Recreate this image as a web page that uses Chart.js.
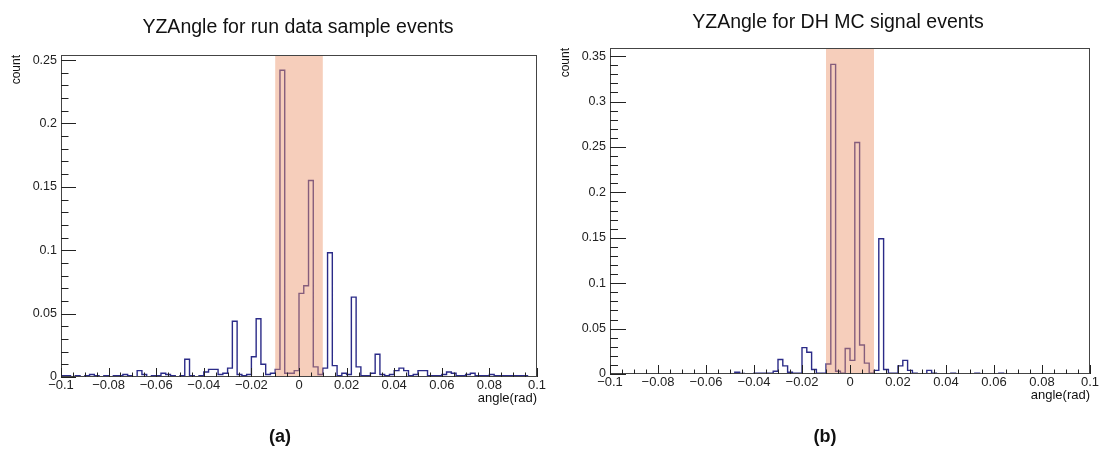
<!DOCTYPE html>
<html>
<head>
<meta charset="utf-8">
<script src="https://cdn.jsdelivr.net/npm/chart.js@4"></script>
<style>
  body { margin: 0; background: #fff; }
  #wrap { position: relative; width: 1101px; height: 452px; font-family: "Liberation Sans", Arial, sans-serif; }
  canvas { position: absolute; top: 0; }
  .tag { position: absolute; top: 426px; font-weight: bold; font-size: 18px; color: #111; transform: translateX(-50%); }
</style>
</head>
<body>
<div id="wrap">
  <canvas id="histA" width="550" height="452" style="left:0"></canvas>
  <canvas id="histB" width="551" height="452" style="left:550px"></canvas>
  <div class="tag" style="left:280px">(a)</div>
  <div class="tag" style="left:825px">(b)</div>
</div>
<script>
// histogram binning: 100 bins from -0.1 to 0.1
const binLow = -0.1;
const binWidth = 0.002;

// YZAngle, run data sample events (bin contents, left to right)
const dataCounts = [
  0.001, 0.001, 0, 0.001, 0, 0.001, 0.002, 0.001, 0, 0.001,
  0, 0.001, 0.001, 0.002, 0.001, 0, 0.005, 0.002, 0, 0.001,
  0.001, 0.003, 0.002, 0.001, 0, 0.001, 0.014, 0.001, 0, 0.001,
  0.004, 0.006, 0.006, 0.002, 0.003, 0.007, 0.044, 0.002, 0.001, 0.002,
  0.016, 0.046, 0.010, 0.002, 0.003, 0.006, 0.242, 0.003, 0.003, 0.005,
  0.066, 0.072, 0.155, 0.008, 0.002, 0.007, 0.098, 0.009, 0.001, 0.003,
  0.002, 0.063, 0.008, 0.001, 0.001, 0.003, 0.018, 0.002, 0.001, 0.002,
  0.005, 0.007, 0.005, 0.001, 0.002, 0.005, 0.005, 0.001, 0.001, 0.001,
  0.002, 0.004, 0.003, 0.001, 0.001, 0.002, 0.003, 0.001, 0.001, 0.001,
  0.002, 0.001, 0.001, 0.001, 0.001, 0.001, 0.001, 0.001, 0, 0
];

// YZAngle, DH MC signal events
const signalCounts = [
  0, 0, 0, 0, 0, 0, 0, 0, 0, 0,
  0, 0, 0, 0, 0, 0, 0, 0, 0, 0,
  0, 0, 0, 0, 0, 0, 0.002, 0.0005, 0, 0,
  0.001, 0.001, 0.001, 0.001, 0.003, 0.016, 0.009, 0.002, 0.001, 0.001,
  0.029, 0.024, 0.005, 0.001, 0.001, 0.011, 0.341, 0.003, 0.001, 0.028,
  0.015, 0.255, 0.032, 0.012, 0.001, 0.004, 0.149, 0.005, 0.001, 0.001,
  0.009, 0.015, 0.004, 0.001, 0, 0, 0.004, 0.001, 0, 0,
  0, 0.001, 0, 0, 0, 0, 0.001, 0, 0, 0,
  0, 0.001, 0, 0, 0, 0, 0, 0, 0, 0,
  0, 0, 0, 0, 0, 0, 0, 0, 0, 0
];

// tick labels
const xTicks = [-0.1, -0.08, -0.06, -0.04, -0.02, 0, 0.02, 0.04, 0.06, 0.08, 0.1];
const yTicksA = [0, 0.05, 0.1, 0.15, 0.2, 0.25];
const yTicksB = [0, 0.05, 0.1, 0.15, 0.2, 0.25, 0.3, 0.35];

// signal window
const cutLow = -0.01;
const cutHigh = 0.01;

const FONT = '"Liberation Sans", Arial, sans-serif';

function fmt(v) {
  const s = String(+v.toFixed(3));
  return s.replace('-', '\u2212');
}

// bin contents -> step outline points at bin edges
function outline(counts) {
  const pts = [{ x: binLow, y: 0 }];
  counts.forEach((c, i) => pts.push({ x: binLow + i * binWidth, y: c }));
  const end = binLow + counts.length * binWidth;
  pts.push({ x: end, y: counts[counts.length - 1] });
  pts.push({ x: end, y: 0 });
  return pts;
}

const rootStyle = {
  id: 'rootStyle',
  afterDatasetsDraw(chart, args, o) {
    const { ctx, chartArea: a, scales: { x, y } } = chart;
    ctx.save();
    // shaded signal window
    const x1 = x.getPixelForValue(cutLow), x2 = x.getPixelForValue(cutHigh);
    ctx.fillStyle = 'rgba(236,150,110,0.47)';
    ctx.fillRect(x1, a.top, x2 - x1, a.bottom - a.top);
    // frame
    ctx.strokeStyle = '#444';
    ctx.lineWidth = 1;
    ctx.strokeRect(a.left + 0.5, a.top + 0.5, a.right - a.left - 1, a.bottom - a.top - 1);
    // inward ticks
    ctx.strokeStyle = '#222';
    ctx.beginPath();
    for (let k = 0; k <= 40; k++) {
      const v = -0.1 + k * 0.005;
      const px = Math.round(x.getPixelForValue(v)) + 0.5;
      const len = k % 4 === 0 ? 9 : 4.5;
      ctx.moveTo(px, a.bottom);
      ctx.lineTo(px, a.bottom - len);
    }
    const ymax = o.yTicks[o.yTicks.length - 1];
    for (let k = 0; k * 0.01 <= ymax + 1e-9; k++) {
      const py = Math.round(y.getPixelForValue(k * 0.01)) + 0.5;
      const len = k % 5 === 0 ? o.majorY : o.majorY / 2;
      ctx.moveTo(a.left, py);
      ctx.lineTo(a.left + len, py);
    }
    ctx.stroke();
    ctx.restore();
  },
  afterDraw(chart, args, o) {
    const { ctx, chartArea: a } = chart;
    ctx.save();
    ctx.fillStyle = '#111';
    ctx.font = '19.5px ' + FONT;
    ctx.textAlign = 'center';
    ctx.textBaseline = 'alphabetic';
    ctx.fillText(o.title, o.titleX, o.titleY);
    ctx.font = '13px ' + FONT;
    ctx.textAlign = 'right';
    ctx.textBaseline = 'middle';
    ctx.fillText('angle(rad)', a.right, a.bottom + 21);
    ctx.font = '12px ' + FONT;
    ctx.translate(a.left - 44, a.top);
    ctx.rotate(-Math.PI / 2);
    ctx.fillText('count', 0, 0);
    ctx.restore();
  }
};

function makePanel(id, counts, yTicks, ymax, area, opts) {
  const canvas = document.getElementById(id);
  return new Chart(canvas, {
    type: 'line',
    data: {
      datasets: [{
        data: outline(counts),
        borderColor: '#2b2b88',
        borderWidth: 1.4,
        pointRadius: 0,
        stepped: true,
        fill: false
      }]
    },
    options: {
      responsive: false,
      animation: false,
      layout: { padding: { left: 0, top: area.top, right: canvas.width - area.right, bottom: 0 } },
      plugins: {
        legend: { display: false },
        tooltip: { enabled: false },
        rootStyle: Object.assign({ yTicks }, opts)
      },
      scales: {
        x: {
          type: 'linear',
          min: -0.1,
          max: 0.1,
          afterBuildTicks: s => { s.ticks = xTicks.map(v => ({ value: v })); },
          afterFit: s => { s.height = canvas.height - area.bottom; },
          grid: { display: false, drawTicks: false },
          border: { display: false },
          ticks: {
            padding: 1,
            maxRotation: 0,
            autoSkip: false,
            color: '#222',
            font: { family: FONT, size: 13 },
            callback: v => fmt(v)
          }
        },
        y: {
          min: 0,
          max: ymax,
          afterBuildTicks: s => { s.ticks = yTicks.map(v => ({ value: v })); },
          afterFit: s => { s.width = area.left; },
          grid: { display: false, drawTicks: false },
          border: { display: false },
          ticks: {
            padding: 4,
            autoSkip: false,
            color: '#222',
            font: { family: FONT, size: 12.5 },
            callback: v => fmt(v)
          }
        }
      }
    },
    plugins: [rootStyle]
  });
}

makePanel('histA', dataCounts, yTicksA, 0.254,
  { left: 61, right: 537, top: 55, bottom: 377 },
  { title: 'YZAngle for run data sample events', titleX: 298, titleY: 33, majorY: 15 });

makePanel('histB', signalCounts, yTicksB, 0.359,
  { left: 60, right: 540, top: 48, bottom: 374 },
  { title: 'YZAngle for DH MC signal events', titleX: 288, titleY: 28, majorY: 16 });
</script>
</body>
</html>
